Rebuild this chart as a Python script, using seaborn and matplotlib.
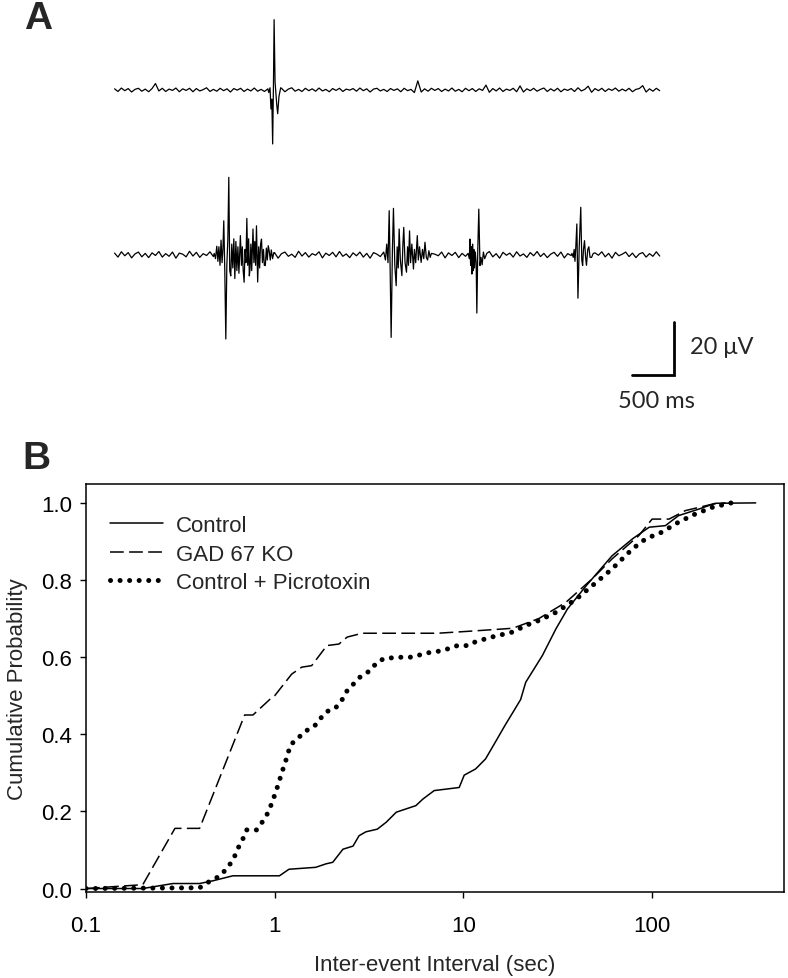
import numpy as np
import matplotlib
matplotlib.use("Agg")
import matplotlib.pyplot as plt
import seaborn as sns
from matplotlib.ticker import NullLocator

# ---------------- panel B: cumulative probability of inter-event intervals ----------------
ctrl_x = [0.1, 0.2, 0.289, 0.40, 0.47, 0.60, 1.06, 1.19, 1.65, 1.87, 2.03, 2.30, 2.6, 2.8,
          3.04, 3.5, 3.9, 4.41, 5.6, 6.1, 7.0, 9.5, 10.1, 11.6, 13.1, 14.9, 16.7, 18.2,
          20.1, 21.4, 26.2, 30.9, 35.6, 44.7, 61.4, 78.8, 96.6, 117.6, 138, 177, 216, 354]
ctrl_y = [0.0, 0.0, 0.013, 0.013, 0.02, 0.033, 0.033, 0.05, 0.055, 0.064, 0.068, 0.102, 0.11,
          0.137, 0.147, 0.154, 0.172, 0.198, 0.215, 0.232, 0.254, 0.262, 0.294, 0.31, 0.336,
          0.383, 0.425, 0.455, 0.49, 0.535, 0.604, 0.673, 0.725, 0.785, 0.863, 0.907, 0.937,
          0.941, 0.967, 0.984, 0.999, 1.0]

gad_x = [0.1, 0.2, 0.296, 0.40, 0.693, 0.767, 0.94, 1.0, 1.23, 1.39, 1.57, 1.89, 2.19, 2.42,
         2.91, 7.3, 10.6, 16.1, 18.3, 25.1, 34.9, 48.1, 61.4, 85, 100, 123, 150, 210, 245]
gad_y = [0.0, 0.01, 0.156, 0.156, 0.45, 0.45, 0.49, 0.50, 0.556, 0.574, 0.578, 0.63, 0.634,
         0.652, 0.662, 0.662, 0.667, 0.673, 0.675, 0.70, 0.742, 0.803, 0.855, 0.915, 0.958,
         0.958, 0.98, 0.997, 1.0]

picro_x = [0.1, 0.4, 0.45, 0.51, 0.566, 0.61, 0.64, 0.68, 0.71, 0.80, 0.87, 0.93, 0.97, 1.01,
           1.05, 1.09, 1.13, 1.17, 1.21, 1.34, 1.49, 1.63, 1.74, 1.89, 2.09, 2.26, 2.42, 2.83,
           3.2, 3.49, 3.83, 4.76, 5.4, 6.25, 7.77, 9.3, 10.6, 11.6, 14.1, 18.2, 21.4, 25.1,
           30.9, 39.5, 48.1, 61.4, 78.8, 92.6, 112.6, 138, 169, 210, 263]
picro_y = [0.0, 0.002, 0.018, 0.032, 0.055, 0.081, 0.105, 0.13, 0.152, 0.152, 0.176, 0.2,
           0.225, 0.248, 0.274, 0.30, 0.323, 0.346, 0.372, 0.392, 0.411, 0.422, 0.44, 0.459,
           0.467, 0.487, 0.513, 0.548, 0.565, 0.587, 0.597, 0.60, 0.60, 0.61, 0.617, 0.63,
           0.63, 0.64, 0.652, 0.665, 0.682, 0.695, 0.716, 0.75, 0.785, 0.829, 0.881, 0.907,
           0.924, 0.95, 0.971, 0.989, 1.0]

series_labels = ["Control", "GAD 67 KO", "Control + Picrotoxin"]
xtick_vals = [0.1, 1, 10, 100]
xtick_labels = ["0.1", "1", "10", "100"]
ytick_vals = [0.0, 0.2, 0.4, 0.6, 0.8, 1.0]
ytick_labels = ["0.0", "0.2", "0.4", "0.6", "0.8", "1.0"]

# ---------------- panel A: extracellular traces (ms, microvolts) ----------------
sample_ms = 40  # baseline samples every 40 ms

trace1_noise = [
    0.4, -0.6, 0.7, -0.3, 0.5, -0.8, 0.2, 0.6, -0.5, 0.3,
    -0.7, 0.5, 2.4, -0.4, 0.6, -0.6, 0.3, -0.2, 0.7, -0.7,
    0.4, -0.2, 0.6, -0.7, 0.5, -0.4, 0.1, 0.8, -0.6, 0.2,
    -0.5, 0.6, -0.3, 0.4, -0.8, 0.5, -0.1, 0.6, -0.6, 0.3,
    -0.4, 0.7, -0.5, 0.2, -0.6, 0.4, -0.3, 0.5, -0.2, 0.6,
    -0.7, 0.3, 0.8, -0.5, 0.2, -0.6, 0.6, -0.3, 0.4, -0.5,
    0.7, -0.4, 0.2, -0.7, 0.5, -0.2, 0.6, -0.6, 0.3, -0.1,
    0.5, -0.5, 0.7, -0.3, 0.4, -0.8, 0.3, 0.6, -0.4, 0.2,
    -0.6, 0.5, -0.2, 0.4, -0.7, 0.6, -0.3, 0.2, -1.0, 3.4,
    -0.8, 0.4, -0.5, 0.6, -0.2, 0.5, -0.6, 0.3, -0.4, 0.7,
    -0.5, 0.2, -0.7, 0.6, -0.3, 0.5, -0.6, 0.4, -0.2, 1.8,
    -0.9, 0.5, -0.4, 0.7, -0.6, 0.3, -0.2, 0.6, -0.7, 1.5,
    -0.8, 0.4, -0.3, 0.6, -0.5, 0.2, 0.7, -0.6, 0.4, -0.4,
    0.6, -0.7, 0.3, -0.2, 0.5, -0.6, 0.8, -0.4, 0.2, 1.4,
    -0.9, 0.5, -0.3, 0.6, -0.6, 0.4, -0.2, 0.7, -0.5, 0.3,
    -0.4, 0.6, -0.7, 0.2, 0.5, 1.6, -0.8, 0.4, -0.5, 0.6,
    -0.3]
trace1_spike_t = [1810, 1825, 1836, 1846, 1856, 1866, 1873, 1884, 1895, 1905, 1915, 1930, 1950]
trace1_spike_v = [-1.0, 0.8, -7.2, -3.5, -20.4, 4.0, 26.5, 3.0, -2.0, -6.0, -9.0, -2.5, 0.8]

trace2_noise = [
    0.6, -0.9, 1.1, -0.4, 0.8, -1.2, 0.3, 1.0, -0.8, 0.5,
    -1.1, 0.7, -0.3, 1.2, -0.9, 0.4, -0.6, 1.0, -1.3, 0.6,
    0.2, -0.8, 1.3, -0.5, 0.9, -1.0, 0.4, -0.3, 1.1, -0.7,
    0.5, -1.2, 0.8, -0.2, 1.0, -0.9, 0.6, -0.5, 1.2, -1.0,
    0.3, 0.9, -1.1, 0.5, -0.4, 1.1, -0.8, 0.7, -1.3, 0.4,
    1.0, -0.6, 0.2, -1.0, 1.3, -0.5, 0.8, -0.9, 0.4, -0.2,
    1.1, -1.2, 0.6, -0.3, 0.9, -0.8, 1.2, -0.6, 0.3, -1.1,
    0.7, -0.4, 1.0, -0.9, 0.5, -1.3, 0.8, 0.2, -0.7, 1.1,
    -0.5, 0.9, -1.0, 0.4, -0.2, 1.2, -0.8, 0.6, -1.1, 0.3,
    0.8, -0.6, 1.1, -0.9, 0.2, -0.4, 1.0, -1.2, 0.7, -0.3,
    0.9, -1.1, 0.5, -0.6, 1.3, -0.7, 0.3, -1.0, 0.8, -0.4,
    1.2, -0.8, 0.4, -1.3, 0.9, -0.2, 0.6, -0.9, 1.1, -0.5,
    0.3, -1.0, 0.8, -0.4, 1.2, -0.7, 0.5, -1.1, 0.2, 0.9,
    -0.6, 1.0, -1.2, 0.4, -0.3, 0.8, -0.9, 1.3, -0.5, 0.6,
    -1.0, 0.7, -0.2, 1.1, -0.8, 0.5, -1.3, 0.9, -0.4, 0.2,
    1.0, -0.7, 0.6, -1.1, 0.3, 0.8, -0.9, 0.4, -0.6, 1.1,
    -0.5]
burst1_t = [1170, 1185, 1200, 1213, 1225, 1238, 1250, 1262, 1272, 1282, 1294, 1306, 1318, 1330,
            1341, 1352, 1364, 1376, 1388, 1400, 1412, 1424, 1436, 1448, 1460, 1477, 1490, 1500,
            1510, 1521, 1532, 1542, 1553, 1563, 1574, 1582, 1590, 1600, 1610, 1625, 1636, 1646,
            1656, 1666, 1675, 1680, 1692, 1703, 1714, 1725, 1736, 1748, 1758, 1770, 1782, 1793,
            1804, 1815, 1828, 1840, 1855, 1870]
burst1_v = [0.5, -1.5, 3.2, -2.5, 3.0, -4.0, 5.5, -3.0, 2.0, 12.8, -6.0, -31.8, -4.0, 6.0,
            29.2, -6.0, -8.0, 4.0, -5.0, 6.0, -9.0, 5.0, -6.0, 3.0, -7.0, 7.2, -4.0, 3.0,
            -6.0, -10.4, 2.0, -3.0, 13.7, -4.0, 6.0, -8.0, -5.4, 4.0, -6.0, 9.7, -3.0, 5.0,
            -4.0, 10.9, -2.0, -10.3, 3.0, -5.0, 4.0, 5.9, -3.0, 2.0, -4.0, -4.1, 2.5, -2.0,
            3.4, 1.5, -2.0, 1.8, -1.5, 0.8]
burst2_t = [3160, 3180, 3195, 3210, 3224, 3235, 3247, 3262, 3274, 3290, 3306, 3318, 3330, 3341,
            3355, 3373, 3385, 3395, 3410, 3427, 3440, 3450, 3463, 3475, 3490, 3509, 3520, 3535,
            3554, 3566, 3580, 3599, 3615, 3630, 3644, 3660, 3675, 3690, 3705, 3720]
burst2_v = [1.0, -2.0, 4.0, -3.0, 16.6, -5.0, -31.2, 2.0, 17.5, -4.0, -11.7, 3.0, -5.0, 9.7,
            -2.0, -7.9, 4.0, 10.3, -3.0, -6.6, 3.0, -4.0, 9.0, -3.0, 4.0, -5.4, 2.0, -3.0,
            7.2, -2.0, 3.0, -2.9, 2.0, -1.5, 4.7, -1.0, -2.0, 1.5, -1.0, 0.5]
burst3_t = [4150, 4165, 4172, 4180, 4188, 4195, 4203, 4210, 4218, 4225, 4235, 4245, 4253, 4264,
            4276, 4290, 4302, 4315, 4330, 4345, 4370]
burst3_v = [0.5, -1.5, 5.9, -4.0, 3.0, -7.3, 4.0, -6.0, 2.0, -5.0, 1.0, -3.0, -22.0, 2.0,
            17.2, -4.1, -1.0, -3.8, 1.0, -1.5, 0.5]
burst4_t = [5370, 5385, 5395, 5405, 5415, 5427, 5440, 5455, 5473, 5485, 5495, 5505, 5517, 5530,
            5540, 5555, 5568, 5582, 5600, 5620]
burst4_v = [0.5, -1.0, 2.0, -2.5, 3.0, 11.6, -16.4, 3.0, 17.9, -2.0, -4.1, 2.0, 5.3, -1.0,
            -4.0, 2.0, 3.0, -1.0, -1.0, 0.5]

trace1_offset = 62.2     # upper trace drawn above the lower one (µV)
scalebar_ms = 500
scalebar_uv = 20


def build_trace(noise, events):
    t = np.arange(len(noise)) * sample_ms
    v = np.array(noise, dtype=float)
    keep = np.ones(len(t), dtype=bool)
    for et, ev in events:
        keep &= (t < et[0]) | (t > et[-1])
    tt = np.concatenate([t[keep]] + [np.array(et, dtype=float) for et, ev in events])
    vv = np.concatenate([v[keep]] + [np.array(ev, dtype=float) for et, ev in events])
    order = np.argsort(tt)
    return tt[order], vv[order]


t1, v1 = build_trace(trace1_noise, [(trace1_spike_t, trace1_spike_v)])
t2, v2 = build_trace(trace2_noise, [(burst1_t, burst1_v), (burst2_t, burst2_v),
                                    (burst3_t, burst3_v), (burst4_t, burst4_v)])

sns.set_style("ticks")
plt.rcParams['font.family'] = ['Liberation Sans', 'DejaVu Sans']

fig = plt.figure(figsize=(7.88, 9.79), dpi=100)

# ---- panel A ----
ax_a = fig.add_axes([100 / 788, 1 - 420 / 979, 680 / 788, 420 / 979])
sns.lineplot(x=t1, y=v1 + trace1_offset, ax=ax_a, sort=False, estimator=None,
             color='black', lw=0.9)
sns.lineplot(x=t2, y=v2, ax=ax_a, sort=False, estimator=None, color='black', lw=0.9)
ax_a.set_xlim(-171, 7812)
ax_a.set_ylim(-62.0, 96.5)
ax_a.axis('off')

bar_t, bar_v = 6571, -45.4
ax_a.plot([bar_t - scalebar_ms, bar_t, bar_t], [bar_v, bar_v, bar_v + scalebar_uv],
          color='black', lw=2.0, solid_joinstyle='miter')
ax_a.text(bar_t + 184, bar_v + scalebar_uv / 2 + 0.6, f"{scalebar_uv} μV", ha='left',
          va='center', fontsize=17, family=['Lato', 'DejaVu Sans'])
ax_a.text(bar_t - 205, bar_v - 9.8, f"{scalebar_ms} ms", ha='center', va='center',
          fontsize=17, family=['Lato', 'DejaVu Sans'])

fig.text(24 / 788, 1 - 1 / 979, "A", ha='left', va='top', fontsize=28, fontweight='bold')
fig.text(22 / 788, 1 - 441 / 979, "B", ha='left', va='top', fontsize=28, fontweight='bold')

# ---- panel B ----
ax = fig.add_axes([86 / 788, (979 - 893) / 979, 698 / 788, 408 / 979])
sns.lineplot(x=ctrl_x, y=ctrl_y, ax=ax, sort=False, estimator=None, color='black',
             lw=1.1, label=series_labels[0])
sns.lineplot(x=gad_x, y=gad_y, ax=ax, sort=False, estimator=None, color='black',
             lw=1.1, linestyle=(0, (9, 3.5)), label=series_labels[1])
sns.lineplot(x=picro_x, y=picro_y, ax=ax, sort=False, estimator=None, color='black',
             lw=3.6, linestyle=(0, (0.01, 1.9)), dash_capstyle='round',
             label=series_labels[2])

ax.set_xscale('log')
ax.set_xlim(0.1, 500)
ax.set_ylim(-0.009, 1.049)
ax.set_xticks(xtick_vals)
ax.set_xticklabels(xtick_labels)
ax.xaxis.set_minor_locator(NullLocator())
ax.set_yticks(ytick_vals)
ax.set_yticklabels(ytick_labels)
ax.tick_params(axis='x', direction='out', length=4.3, width=1, pad=12, labelsize=16,
               colors='black')
ax.tick_params(axis='y', direction='out', length=4.3, width=1, pad=5.5, labelsize=16,
               colors='black')
for sp in ax.spines.values():
    sp.set_visible(True)
    sp.set_linewidth(1.1)
    sp.set_color('black')

ax.set_xlabel("Inter-event Interval (sec)", fontsize=16)
ax.set_ylabel("Cumulative Probability", fontsize=16)
ax.xaxis.set_label_coords(0.5, -0.152)
ax.yaxis.set_label_coords(-0.083, 0.5)

ax.legend(loc='upper left', bbox_to_anchor=(0.034, 0.924), frameon=False, fontsize=16,
          handlelength=2.4, handletextpad=0.57, labelspacing=0.34, borderpad=0,
          borderaxespad=0)

fig.savefig("out.png", dpi=100)
